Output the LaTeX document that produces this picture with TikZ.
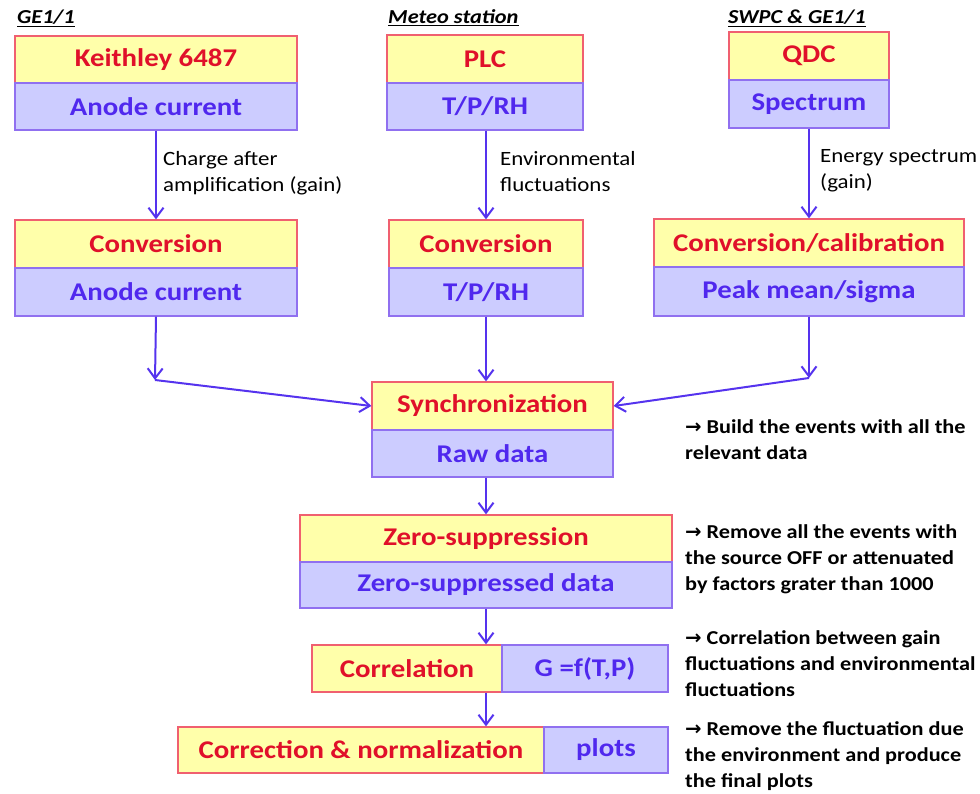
\documentclass[tikz,border=0pt]{standalone}
\usepackage{fontspec}
\setmainfont{Carlito}[FakeStretch=1.13]
\newfontfamily\djv{DejaVu Sans}
\usetikzlibrary{arrows.meta}
\definecolor{yfill}{HTML}{FFFFAA}
\definecolor{bfill}{HTML}{CCCCFF}
\definecolor{ydraw}{HTML}{F06070}
\definecolor{bdraw}{HTML}{9070F0}
\definecolor{rtext}{HTML}{E0102A}
\definecolor{btext}{HTML}{5028EE}
\definecolor{arr}{HTML}{5533EE}
\tikzset{
  ybox/.style={draw=ydraw, fill=yfill, line width=1.3pt, text=rtext, font=\fontsize{25.5}{28}\selectfont\bfseries, inner sep=0pt},
  bbox/.style={draw=bdraw, fill=bfill, line width=1.3pt, text=btext, font=\fontsize{25.5}{28}\selectfont\bfseries, inner sep=0pt},
  head/.style={anchor=base west, inner sep=0pt, font=\fontsize{19.8}{22}\selectfont\bfseries\itshape},
  lab/.style={anchor=base west, inner sep=0pt, font=\fontsize{20.3}{22}\selectfont},
  note/.style={anchor=base west, inner sep=0pt, font=\fontsize{19.7}{22}\selectfont\bfseries},
  flow/.style={draw=arr, line width=2pt, -{Straight Barb[length=10pt,width=15pt,line width=2pt]}},
}
\newcommand\boxat[7]{% name, style, x1, y1, x2, y2, text
  \node[#2, minimum width={(#5-#3)*1pt}, minimum height={(#6-#4)*1pt}] (#1) at ({(#3+#5)/2},{(#4+#6)/2}) {#7};}
\newcommand\rarr{{\djv\bfseries →}}
\begin{document}
\begin{tikzpicture}[x=1pt,y=-1pt]
\useasboundingbox (0,0) rectangle (980,794);
% headers
\node[head] (h1) at (17,24) {\underline{GE1/1}};
\node[head] (h2) at (388,24) {\underline{Meteo station}};
\node[head] (h3) at (728,24) {\underline{SWPC \& GE1/1}};
% row 1
\boxat{k1}{ybox}{15}{36}{297}{83}{Keithley 6487}
\boxat{k2}{bbox}{15}{83}{297}{130}{Anode current}
\boxat{p1}{ybox}{387}{35}{583}{83}{PLC}
\boxat{p2}{bbox}{387}{83}{583}{130}{T/P/RH}
\boxat{q1}{ybox}{729}{32}{889}{80}{QDC}
\boxat{q2}{bbox}{729}{80}{889}{128}{Spectrum}
% row 2
\boxat{c1}{ybox}{15}{220}{297}{268}{Conversion}
\boxat{c2}{bbox}{15}{268}{297}{316}{Anode current}
\boxat{d1}{ybox}{389}{220}{583}{268}{Conversion}
\boxat{d2}{bbox}{389}{268}{583}{316}{T/P/RH}
\boxat{e1}{ybox}{654}{219}{964}{267}{Conversion/calibration}
\boxat{e2}{bbox}{654}{267}{964}{316}{Peak mean/sigma}
% sync
\boxat{s1}{ybox}{372}{382}{613}{430}{Synchronization}
\boxat{s2}{bbox}{372}{430}{613}{477}{Raw data}
% zero suppression
\boxat{z1}{ybox}{300}{515}{672}{562}{Zero-suppression}
\boxat{z2}{bbox}{300}{562}{672}{608}{Zero-suppressed data}
% correlation
\boxat{r1}{ybox}{312}{645}{502}{692}{Correlation}
\boxat{r2}{bbox}{502}{645}{668}{692}{G =f(T,P)}
% correction
\boxat{n1}{ybox}{178}{727}{544}{773}{Correction \& normalization}
\boxat{n2}{bbox}{544}{727}{668}{773}{plots}
% arrows top
\draw[flow] (k2.south) -- (c1.north);
\draw[flow] (p2.south -| d1.north) -- (d1.north);
\draw[flow] (q2.south) -- (e1.north);
\node[lab] (l1a) at (163,166) {Charge after};
\node[lab] (l1b) at (163,192) {amplification (gain)};
\node[lab] (l2a) at (500,166) {Environmental};
\node[lab] (l2b) at (500,192) {fluctuations};
\node[lab] (l3a) at (820,163) {Energy spectrum};
\node[lab] (l3b) at (820,189) {(gain)};
% arrows to sync
\coordinate (j1) at (155,380);
\coordinate (j3) at (809,378);
\draw[flow] (c2.south) -- (j1);
\draw[flow] (j1) -- (s1.west);
\draw[flow] (d2.south) -- (d2.south |- s1.north);
\draw[flow] (e2.south) -- (j3);
\draw[flow] (j3) -- (s1.east);
% lower arrows
\draw[flow] (s2.south -| z1.north) -- (z1.north);
\draw[flow] (z2.south) -- (z2.south |- r1.north);
\draw[flow] (z2.south |- r1.south) -- (z2.south |- n1.north);
% notes
\node[note] (a1) at (685,433) {\rarr{} Build the events with all the};
\node[note] (a2) at (685,459) {relevant data};
\node[note] (b1) at (685,538) {\rarr{} Remove all the events with};
\node[note] (b2) at (685,564) {the source OFF or attenuated};
\node[note] (b3) at (685,590) {by factors grater than 1000};
\node[note] (c1n) at (685,644) {\rarr{} Correlation between gain};
\node[note] (c2n) at (685,670) {fluctuations and environmental};
\node[note] (c3n) at (685,696) {fluctuations};
\node[note] (d1n) at (685,735) {\rarr{} Remove the fluctuation due};
\node[note] (d2n) at (685,761) {the environment and produce};
\node[note] (d3n) at (685,787) {the final plots};
\end{tikzpicture}
\end{document}
